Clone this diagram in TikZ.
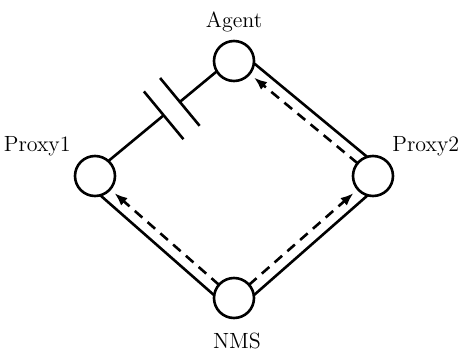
\documentclass[tikz,border=0pt]{standalone}
\usetikzlibrary{calc,arrows.meta}
\begin{document}
\begin{tikzpicture}[x=0.5pt,y=-0.5pt,
  station/.style={circle,draw,line width=1.3pt,minimum size=20pt,inner sep=0pt,outer sep=0pt},
  lbl/.style={font=\fontsize{11}{13}\selectfont,inner sep=0pt},
  link/.style={line width=1.3pt},
  flow/.style={line width=1.3pt,dash pattern=on 5pt off 3.5pt,-{Latex[length=6.5pt,width=5pt]},shorten >=3pt}]
\useasboundingbox (0,0) rectangle (462,354);
\node[station] (agent) at (234,61) {};
\node[station] (p1) at (95,176) {};
\node[station] (p2) at (373,176) {};
\node[station] (nms) at (234,298) {};
\node[lbl,anchor=base] (agentlbl) at (234,27.3) {Agent};
\node[lbl,anchor=base] (nmslbl) at (237,348.3) {NMS};
\node[lbl,anchor=base east] (p1lbl) at (71,151.7) {Proxy1};
\node[lbl,anchor=base west] (p2lbl) at (392,151.7) {Proxy2};
% solid outer links
\draw[link,shorten <=8.35pt,shorten >=8.35pt] ($(nms)!5.5pt!-90:(p2)$) -- ($(p2)!5.5pt!90:(nms)$);
\draw[link,shorten <=8.35pt,shorten >=8.35pt] ($(p2)!5.5pt!-90:(agent)$) -- ($(agent)!5.5pt!90:(p2)$);
\draw[link,shorten <=8.35pt,shorten >=8.35pt] ($(p1)!5.5pt!-90:(nms)$) -- ($(nms)!5.5pt!90:(p1)$);
% broken link Agent--Proxy1
\coordinate (la) at ($(agent)!1.5pt!-90:(p1)$);
\coordinate (lb) at ($(p1)!1.5pt!90:(agent)$);
\coordinate (m) at ($(la)!0.434!(lb)$);
\coordinate (c1) at ($(m)!5.25pt!(la)$);
\coordinate (c2) at ($(m)!5.25pt!(lb)$);
\draw[link,shorten <=9.89pt] (la) -- (c1);
\draw[link,shorten >=9.89pt] (c2) -- (lb);
\draw[link] ($(c1)!15.5pt!90:(la)$) -- ($(c1)!15.5pt!-90:(la)$);
\draw[link] ($(c2)!15.5pt!90:(la)$) -- ($(c2)!15.5pt!-90:(la)$);
% dashed flows
\draw[flow] (nms) -- (p1);
\draw[flow] (nms) -- (p2);
\draw[flow] (p2) -- (agent);
\end{tikzpicture}
\end{document}
